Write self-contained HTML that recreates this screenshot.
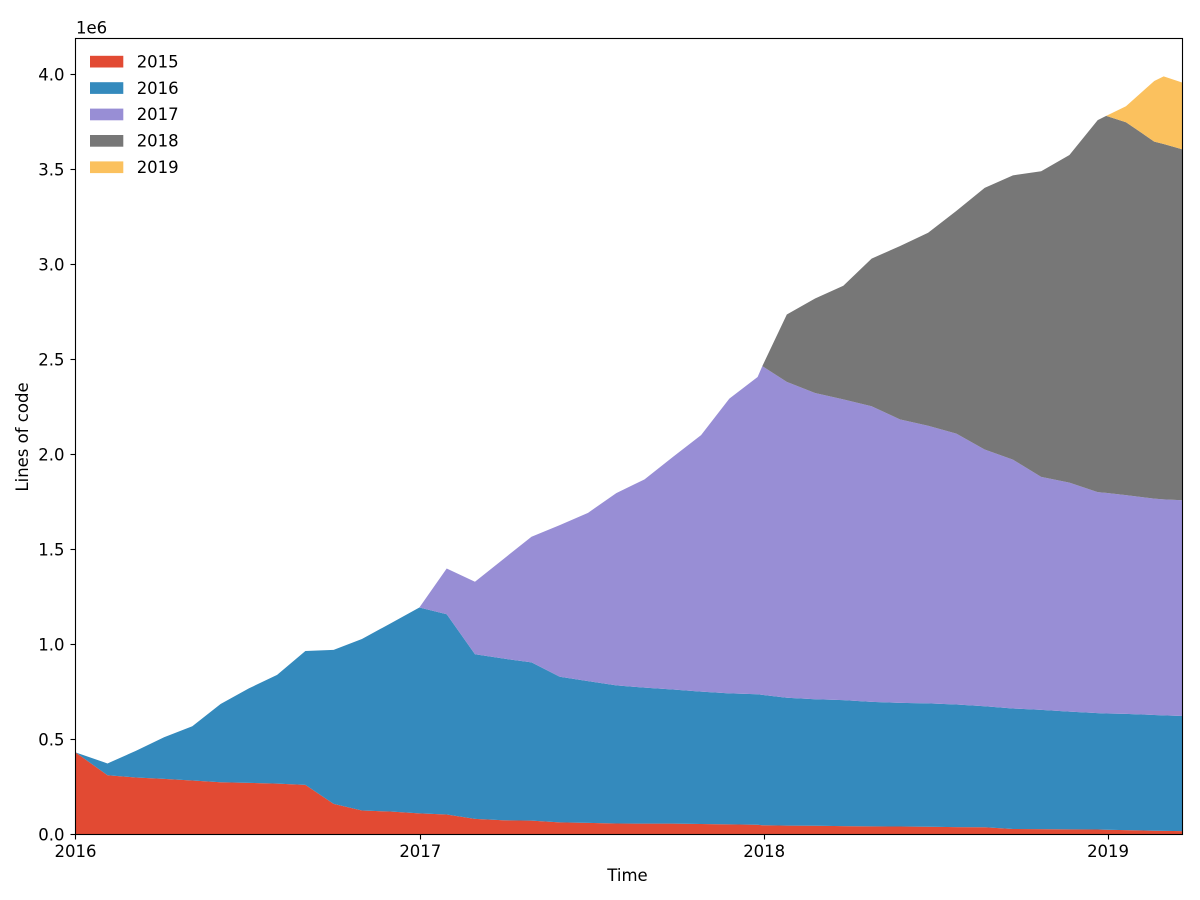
<!DOCTYPE html>
<html lang="en">
<head>
<meta charset="utf-8">
<title>Lines of code by cohort year</title>
<style>
  html, body { margin: 0; padding: 0; background: #fff; }
  #chart { display: block; width: 1200px; height: 900px; }
  text { font-family: "DejaVu Sans", "Liberation Sans", sans-serif; font-size: 16.5px; fill: #000; }
</style>
</head>
<body>
<svg id="chart" xmlns="http://www.w3.org/2000/svg" width="1200" height="900" viewBox="0 0 1200 900">
  <g id="areas"></g>
  <g id="ticks"></g>
  <rect x="75.5" y="38.5" width="1107" height="796" fill="none" stroke="#000" stroke-width="1.11"></rect>
  <g id="legend"></g>
  <text x="76" y="33.5">1e6</text>
  <text x="627.5" y="881" text-anchor="middle">Time</text>
  <text transform="translate(28 437) rotate(-90)" text-anchor="middle">Lines of code</text>
</svg>
<script>
// Days since 2016-01-01 for each sample
const days = [0,34,64,94,124,154,184,214,244,274,304,334,365,394,424,454,484,514,544,574,604,634,664,694,724,729,755,785,815,845,875,905,935,965,995,1025,1055,1085,1094,1115,1145,1155,1175];

// Lines of code (thousands) per cohort
const series2015 = [432,312,300,293,284,275,272,268,261,161,126,121,111,105,82,75,73,64,61,58,57,57,55,53,51,49,47,46,44,43,42,41,39,38,29,28,27,26,25,23,20,19,18];
const series2016 = [0,62,140,219,286,412,497,572,705,811,903,989,1084,1054,867,851,833,766,746,727,716,706,697,690,687,686,673,666,663,655,651,649,645,637,634,628,620,613,612,612,609,608,606];
const series2017 = [0,0,0,0,0,0,0,0,0,0,0,0,0,241,381,523,661,798,886,1012,1096,1224,1350,1551,1670,1730,1662,1612,1583,1556,1492,1461,1426,1351,1310,1226,1205,1163,1161,1151,1139,1137,1135];
const series2018 = [0,0,0,0,0,0,0,0,0,0,0,0,0,0,0,0,0,0,0,0,0,0,0,0,0,0,355,497,598,777,912,1016,1172,1377,1496,1609,1724,1958,1984,1963,1879,1870,1847];
const series2019 = [0,0,0,0,0,0,0,0,0,0,0,0,0,0,0,0,0,0,0,0,0,0,0,0,0,0,0,0,0,0,0,0,0,0,0,0,0,0,0,84,319,356,351];

const seriesNames = ["2015","2016","2017","2018","2019"];
const seriesColors = ["#E24A33","#348ABD","#988ED5","#777777","#FBC15E"];

const xTickDays = [0,366,731,1096];
const xTickLabels = ["2016","2017","2018","2019"];
const yTickValues = [0,500,1000,1500,2000,2500,3000,3500,4000];
const yTickLabels = ["0.0","0.5","1.0","1.5","2.0","2.5","3.0","3.5","4.0"];

const SVG_NS = "http://www.w3.org/2000/svg";
const plot = { left: 75.5, right: 1182.5, top: 38.5, bottom: 834.5 };
const xMax = 1175;
const yMax = 4189.5;
function xScale(d) { return plot.left + d / xMax * (plot.right - plot.left); }
function yScale(v) { return plot.bottom - v / yMax * (plot.bottom - plot.top); }
function snap(p) { return Math.round(p - 0.5) + 0.5; }

const allSeries = [series2015, series2016, series2017, series2018, series2019];
const areasGroup = document.getElementById("areas");
const ticksGroup = document.getElementById("ticks");
const legendGroup = document.getElementById("legend");

let baseline = days.map(function () { return 0; });
allSeries.forEach(function (values, s) {
  const top = values.map(function (v, i) { return baseline[i] + v; });
  const pts = [];
  top.forEach(function (v, i) { pts.push(xScale(days[i]).toFixed(2) + "," + yScale(v).toFixed(2)); });
  for (let i = days.length - 1; i >= 0; i--) {
    pts.push(xScale(days[i]).toFixed(2) + "," + yScale(baseline[i]).toFixed(2));
  }
  const poly = document.createElementNS(SVG_NS, "polygon");
  poly.setAttribute("points", pts.join(" "));
  poly.setAttribute("fill", seriesColors[s]);
  
  
  areasGroup.appendChild(poly);
  baseline = top;
});

xTickDays.forEach(function (d, i) {
  const x = snap(xScale(d));
  const tick = document.createElementNS(SVG_NS, "line");
  tick.setAttribute("x1", x);
  tick.setAttribute("x2", x);
  tick.setAttribute("y1", plot.bottom);
  tick.setAttribute("y2", plot.bottom + 5);
  tick.setAttribute("stroke", "#000");
  tick.setAttribute("stroke-width", "1.11");
  
  
  ticksGroup.appendChild(tick);
  const label = document.createElementNS(SVG_NS, "text");
  label.setAttribute("x", xScale(d));
  label.setAttribute("y", plot.bottom + 22.3);
  label.setAttribute("text-anchor", "middle");
  label.textContent = xTickLabels[i];
  
  
  ticksGroup.appendChild(label);
});

yTickValues.forEach(function (v, i) {
  const y = snap(yScale(v));
  const tick = document.createElementNS(SVG_NS, "line");
  tick.setAttribute("x1", plot.left - 5);
  tick.setAttribute("x2", plot.left);
  tick.setAttribute("y1", y);
  tick.setAttribute("y2", y);
  tick.setAttribute("stroke", "#000");
  tick.setAttribute("stroke-width", "1.11");
  
  
  ticksGroup.appendChild(tick);
  const label = document.createElementNS(SVG_NS, "text");
  label.setAttribute("x", plot.left - 11);
  label.setAttribute("y", yScale(v) + 6.2);
  label.setAttribute("text-anchor", "end");
  label.textContent = yTickLabels[i];
  
  
  ticksGroup.appendChild(label);
});

seriesNames.forEach(function (name, s) {
  const rowTop = 55.8 + s * 26.4;
  const swatch = document.createElementNS(SVG_NS, "rect");
  swatch.setAttribute("x", 90);
  swatch.setAttribute("y", rowTop);
  swatch.setAttribute("width", 33.3);
  swatch.setAttribute("height", 11.7);
  swatch.setAttribute("fill", seriesColors[s]);
  
  
  legendGroup.appendChild(swatch);
  const label = document.createElementNS(SVG_NS, "text");
  label.setAttribute("x", 136.7);
  label.setAttribute("y", rowTop + 11.6);
  label.textContent = name;
  
  
  legendGroup.appendChild(label);
});
</script>
</body>
</html>
